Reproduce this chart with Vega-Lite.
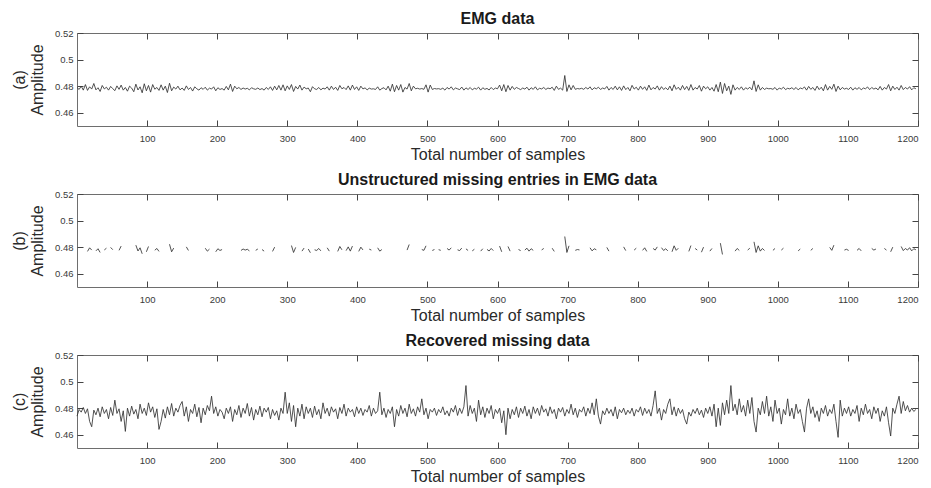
{
  "$schema": "https://vega.github.io/schema/vega-lite/v6.json",
  "padding": {"left": 11, "top": 10, "right": 0, "bottom": 1},
  "background": "white",
  "config": {
    "font": "Liberation Sans",
    "view": {"stroke": "#6e6e6e", "strokeWidth": 1},
    "axis": {"domain": false, "grid": false, "tickColor": "#444444", "tickSize": 6, "tickWidth": 1, "offset": -6, "labelFont": "Liberation Sans", "labelFontSize": 9.5, "labelColor": "#3a3a3a", "titleFont": "Liberation Sans", "titleFontSize": 16, "titleFontWeight": "normal", "titleColor": "#2a2a2a"},
    "title": {"font": "Liberation Sans", "fontSize": 16, "fontWeight": "bold", "color": "#1a1a1a", "anchor": "middle", "offset": 1},
    "line": {"color": "#333333", "strokeWidth": 0.85}
  },
  "data": {"values": [
{"n":0,"a":0.479,"c":0.474},{"n":3,"a":0.4775,"c":0.479},{"n":6,"a":0.48,"c":0.477},{"n":9,"a":0.477,"c":0.4805},{"n":12,"a":0.4812,"c":0.476},{"n":15,"a":0.4768,"b":0.4768,"c":0.4795},{"n":18,"a":0.4795,"b":0.4795,"c":0.47},{"n":21,"a":0.4778,"b":0.4778,"c":0.466},{"n":24,"a":0.482,"c":0.4785},{"n":27,"a":0.4772,"b":0.4772,"c":0.475},
{"n":30,"a":0.4788,"b":0.4788,"c":0.48},{"n":33,"a":0.476,"b":0.476,"c":0.4735},{"n":36,"a":0.4805,"c":0.481},{"n":39,"a":0.4779,"b":0.4779,"c":0.476},{"n":42,"a":0.4792,"b":0.4792,"c":0.479},{"n":45,"a":0.477,"c":0.472},{"n":48,"a":0.4798,"b":0.4798,"c":0.4805},{"n":51,"a":0.4781,"b":0.4781,"c":0.4745},{"n":54,"a":0.4766,"c":0.486},{"n":57,"a":0.4802,"c":0.476},
{"n":60,"a":0.4776,"b":0.4776,"c":0.4795},{"n":63,"a":0.4808,"b":0.4808,"c":0.47},{"n":66,"a":0.477,"c":0.478},{"n":69,"a":0.479,"c":0.4625},{"n":72,"a":0.4762,"c":0.48},{"n":75,"a":0.48,"c":0.474},{"n":78,"a":0.4785,"c":0.4815},{"n":81,"a":0.4758,"c":0.4755},{"n":84,"a":0.4815,"b":0.4815,"c":0.479},{"n":87,"a":0.4771,"b":0.4771,"c":0.472},
{"n":90,"a":0.4795,"b":0.4795,"c":0.483},{"n":93,"a":0.475,"b":0.475,"c":0.476},{"n":96,"a":0.4818,"c":0.48},{"n":99,"a":0.4765,"b":0.4765,"c":0.4745},{"n":102,"a":0.4805,"b":0.4805,"c":0.484},{"n":105,"a":0.4755,"c":0.477},{"n":108,"a":0.4812,"c":0.481},{"n":111,"a":0.4777,"b":0.4777,"c":0.473},{"n":114,"a":0.479,"b":0.479,"c":0.4795},{"n":117,"a":0.4768,"b":0.4768,"c":0.464},
{"n":120,"a":0.481,"c":0.47},{"n":123,"a":0.477,"c":0.479},{"n":126,"a":0.48,"c":0.4725},{"n":129,"a":0.4752,"c":0.481},{"n":132,"a":0.4822,"b":0.4822,"c":0.475},{"n":135,"a":0.4765,"b":0.4765,"c":0.4835},{"n":138,"a":0.4793,"b":0.4793,"c":0.474},{"n":141,"a":0.4778,"c":0.48},{"n":144,"a":0.48,"c":0.477},{"n":147,"a":0.4772,"c":0.482},
{"n":150,"a":0.4786,"c":0.485},{"n":153,"a":0.4768,"c":0.474},{"n":156,"a":0.4802,"b":0.4802,"c":0.481},{"n":159,"a":0.4775,"b":0.4775,"c":0.47},{"n":162,"a":0.479,"c":0.479},{"n":165,"a":0.4763,"c":0.476},{"n":168,"a":0.4795,"c":0.483},{"n":171,"a":0.478,"c":0.4735},{"n":174,"a":0.477,"c":0.4805},{"n":177,"a":0.4788,"c":0.469},
{"n":180,"a":0.4776,"c":0.48},{"n":183,"a":0.4792,"b":0.4792,"c":0.475},{"n":186,"a":0.477,"b":0.477,"c":0.482},{"n":189,"a":0.4785,"b":0.4785,"c":0.478},{"n":192,"a":0.4778,"c":0.489},{"n":195,"a":0.4795,"c":0.476},{"n":198,"a":0.4765,"b":0.4765,"c":0.481},{"n":201,"a":0.4788,"b":0.4788,"c":0.474},{"n":204,"a":0.4775,"b":0.4775,"c":0.479},{"n":207,"a":0.4782,"b":0.4782,"c":0.477},
{"n":210,"a":0.477,"c":0.472},{"n":213,"a":0.4798,"c":0.48},{"n":216,"a":0.4772,"c":0.476},{"n":219,"a":0.4815,"c":0.481},{"n":222,"a":0.476,"c":0.47},{"n":225,"a":0.48,"c":0.479},{"n":228,"a":0.478,"c":0.475},{"n":231,"a":0.479,"c":0.482},{"n":234,"a":0.4775,"b":0.4775,"c":0.473},{"n":237,"a":0.4786,"b":0.4786,"c":0.48},
{"n":240,"a":0.4778,"b":0.4778,"c":0.476},{"n":243,"a":0.4784,"b":0.4784,"c":0.4835},{"n":246,"a":0.4772,"b":0.4772,"c":0.474},{"n":249,"a":0.4788,"c":0.4805},{"n":252,"a":0.478,"c":0.471},{"n":255,"a":0.4776,"b":0.4776,"c":0.479},{"n":258,"a":0.4786,"b":0.4786,"c":0.475},{"n":261,"a":0.4774,"c":0.4815},{"n":264,"a":0.4782,"b":0.4782,"c":0.4735},{"n":267,"a":0.477,"b":0.477,"c":0.48},
{"n":270,"a":0.479,"c":0.477},{"n":273,"a":0.4775,"c":0.4805},{"n":276,"a":0.4795,"c":0.472},{"n":279,"a":0.4768,"b":0.4768,"c":0.479},{"n":282,"a":0.48,"b":0.48,"c":0.4745},{"n":285,"a":0.4772,"c":0.478},{"n":288,"a":0.4805,"c":0.471},{"n":291,"a":0.477,"c":0.48},{"n":294,"a":0.481,"c":0.476},{"n":297,"a":0.4765,"c":0.492},
{"n":300,"a":0.4802,"c":0.476},{"n":303,"a":0.4775,"c":0.484},{"n":306,"a":0.4812,"b":0.4812,"c":0.47},{"n":309,"a":0.476,"b":0.476,"c":0.482},{"n":312,"a":0.4798,"b":0.4798,"c":0.466},{"n":315,"a":0.4778,"c":0.48},{"n":318,"a":0.4808,"c":0.474},{"n":321,"a":0.477,"b":0.477,"c":0.483},{"n":324,"a":0.4793,"b":0.4793,"c":0.472},{"n":327,"a":0.478,"c":0.481},
{"n":330,"a":0.4786,"b":0.4786,"c":0.476},{"n":333,"a":0.4758,"b":0.4758,"c":0.48},{"n":336,"a":0.4796,"c":0.473},{"n":339,"a":0.478,"b":0.478,"c":0.4815},{"n":342,"a":0.4775,"b":0.4775,"c":0.475},{"n":345,"a":0.479,"b":0.479,"c":0.479},{"n":348,"a":0.4772,"b":0.4772,"c":0.472},{"n":351,"a":0.4785,"c":0.484},{"n":354,"a":0.4778,"c":0.476},{"n":357,"a":0.4795,"b":0.4795,"c":0.48},
{"n":360,"a":0.477,"b":0.477,"c":0.474},{"n":363,"a":0.48,"c":0.481},{"n":366,"a":0.4775,"c":0.477},{"n":369,"a":0.4792,"c":0.4795},{"n":372,"a":0.4768,"b":0.4768,"c":0.472},{"n":375,"a":0.4805,"b":0.4805,"c":0.4805},{"n":378,"a":0.478,"b":0.478,"c":0.476},{"n":381,"a":0.479,"c":0.483},{"n":384,"a":0.4774,"b":0.4774,"c":0.474},{"n":387,"a":0.4802,"b":0.4802,"c":0.48},
{"n":390,"a":0.477,"b":0.477,"c":0.477},{"n":393,"a":0.4808,"b":0.4808,"c":0.479},{"n":396,"a":0.4775,"c":0.4735},{"n":399,"a":0.4795,"c":0.481},{"n":402,"a":0.4768,"b":0.4768,"c":0.476},{"n":405,"a":0.48,"b":0.48,"c":0.48},{"n":408,"a":0.4779,"b":0.4779,"c":0.4745},{"n":411,"a":0.4787,"c":0.479},{"n":414,"a":0.4772,"c":0.477},{"n":417,"a":0.4785,"b":0.4785,"c":0.482},
{"n":420,"a":0.4778,"b":0.4778,"c":0.474},{"n":423,"a":0.478,"c":0.48},{"n":426,"a":0.4775,"c":0.476},{"n":429,"a":0.4795,"b":0.4795,"c":0.478},{"n":432,"a":0.477,"b":0.477,"c":0.492},{"n":435,"a":0.4782,"b":0.4782,"c":0.475},{"n":438,"a":0.4788,"c":0.48},{"n":441,"a":0.4772,"c":0.473},{"n":444,"a":0.48,"c":0.479},{"n":447,"a":0.4762,"c":0.476},
{"n":450,"a":0.4815,"c":0.481},{"n":453,"a":0.4758,"c":0.466},{"n":456,"a":0.4805,"c":0.479},{"n":459,"a":0.477,"c":0.474},{"n":462,"a":0.4812,"c":0.482},{"n":465,"a":0.4755,"c":0.476},{"n":468,"a":0.479,"c":0.48},{"n":471,"a":0.4778,"b":0.4778,"c":0.4735},{"n":474,"a":0.482,"b":0.482,"c":0.483},{"n":477,"a":0.4765,"c":0.476},
{"n":480,"a":0.48,"c":0.4795},{"n":483,"a":0.478,"c":0.474},{"n":486,"a":0.4784,"c":0.481},{"n":489,"a":0.4778,"c":0.477},{"n":492,"a":0.4782,"b":0.4782,"c":0.487},{"n":495,"a":0.4776,"b":0.4776,"c":0.475},{"n":498,"a":0.481,"b":0.481,"c":0.48},{"n":501,"a":0.4755,"c":0.472},{"n":504,"a":0.4808,"c":0.479},{"n":507,"a":0.4775,"b":0.4775,"c":0.477},
{"n":510,"a":0.4782,"b":0.4782,"c":0.48},{"n":513,"a":0.4779,"c":0.4745},{"n":516,"a":0.4781,"b":0.4781,"c":0.479},{"n":519,"a":0.4776,"b":0.4776,"c":0.4765},{"n":522,"a":0.4785,"c":0.481},{"n":525,"a":0.477,"c":0.475},{"n":528,"a":0.479,"b":0.479,"c":0.478},{"n":531,"a":0.4778,"b":0.4778,"c":0.474},{"n":534,"a":0.4795,"b":0.4795,"c":0.48},{"n":537,"a":0.4772,"c":0.477},
{"n":540,"a":0.4786,"c":0.482},{"n":543,"a":0.478,"b":0.478,"c":0.4745},{"n":546,"a":0.4774,"b":0.4774,"c":0.48},{"n":549,"a":0.4793,"b":0.4793,"c":0.476},{"n":552,"a":0.477,"c":0.481},{"n":555,"a":0.4787,"b":0.4787,"c":0.497},{"n":558,"a":0.4775,"b":0.4775,"c":0.474},{"n":561,"a":0.479,"c":0.482},{"n":564,"a":0.4772,"b":0.4772,"c":0.476},{"n":567,"a":0.4784,"b":0.4784,"c":0.48},
{"n":570,"a":0.4778,"c":0.47},{"n":573,"a":0.4792,"c":0.486},{"n":576,"a":0.477,"b":0.477,"c":0.475},{"n":579,"a":0.4788,"b":0.4788,"c":0.481},{"n":582,"a":0.4776,"c":0.473},{"n":585,"a":0.4783,"b":0.4783,"c":0.48},{"n":588,"a":0.4771,"b":0.4771,"c":0.476},{"n":591,"a":0.479,"b":0.479,"c":0.482},{"n":594,"a":0.4774,"b":0.4774,"c":0.472},{"n":597,"a":0.4786,"c":0.479},
{"n":600,"a":0.478,"c":0.476},{"n":603,"a":0.4808,"b":0.4808,"c":0.48},{"n":606,"a":0.4765,"b":0.4765,"c":0.469},{"n":609,"a":0.4812,"c":0.478},{"n":612,"a":0.4758,"c":0.46},{"n":615,"a":0.4805,"b":0.4805,"c":0.48},{"n":618,"a":0.477,"b":0.477,"c":0.472},{"n":621,"a":0.4798,"c":0.479},{"n":624,"a":0.4776,"c":0.475},{"n":627,"a":0.479,"c":0.481},
{"n":630,"a":0.4782,"b":0.4782,"c":0.473},{"n":633,"a":0.4774,"b":0.4774,"c":0.48},{"n":636,"a":0.4786,"c":0.476},{"n":639,"a":0.4778,"b":0.4778,"c":0.4815},{"n":642,"a":0.4792,"b":0.4792,"c":0.474},{"n":645,"a":0.477,"b":0.477,"c":0.479},{"n":648,"a":0.4788,"b":0.4788,"c":0.472},{"n":651,"a":0.4776,"b":0.4776,"c":0.481},{"n":654,"a":0.4795,"c":0.476},{"n":657,"a":0.4772,"c":0.48},
{"n":660,"a":0.4784,"c":0.4745},{"n":663,"a":0.4779,"b":0.4779,"c":0.482},{"n":666,"a":0.479,"b":0.479,"c":0.477},{"n":669,"a":0.4775,"c":0.4795},{"n":672,"a":0.4786,"c":0.474},{"n":675,"a":0.478,"c":0.481},{"n":678,"a":0.4792,"b":0.4792,"c":0.476},{"n":681,"a":0.4768,"b":0.4768,"c":0.479},{"n":684,"a":0.48,"c":0.472},{"n":687,"a":0.4776,"c":0.48},
{"n":690,"a":0.4785,"c":0.477},{"n":693,"a":0.477,"c":0.4805},{"n":696,"a":0.488,"b":0.488,"c":0.474},{"n":699,"a":0.476,"b":0.476,"c":0.479},{"n":702,"a":0.481,"b":0.481,"c":0.476},{"n":705,"a":0.4772,"c":0.483},{"n":708,"a":0.4805,"c":0.475},{"n":711,"a":0.4776,"b":0.4776,"c":0.48},{"n":714,"a":0.4782,"b":0.4782,"c":0.473},{"n":717,"a":0.4779,"b":0.4779,"c":0.479},
{"n":720,"a":0.4784,"c":0.477},{"n":723,"a":0.4776,"c":0.481},{"n":726,"a":0.479,"c":0.474},{"n":729,"a":0.4778,"c":0.48},{"n":732,"a":0.4795,"b":0.4795,"c":0.476},{"n":735,"a":0.4772,"b":0.4772,"c":0.484},{"n":738,"a":0.4788,"b":0.4788,"c":0.475},{"n":741,"a":0.478,"b":0.478,"c":0.487},{"n":744,"a":0.4792,"c":0.474},{"n":747,"a":0.4775,"c":0.468},
{"n":750,"a":0.4786,"c":0.478},{"n":753,"a":0.4779,"c":0.475},{"n":756,"a":0.4798,"b":0.4798,"c":0.48},{"n":759,"a":0.477,"b":0.477,"c":0.476},{"n":762,"a":0.479,"c":0.479},{"n":765,"a":0.4775,"c":0.474},{"n":768,"a":0.48,"c":0.481},{"n":771,"a":0.4772,"c":0.472},{"n":774,"a":0.4795,"c":0.479},{"n":777,"a":0.4768,"c":0.4765},
{"n":780,"a":0.4802,"b":0.4802,"c":0.48},{"n":783,"a":0.4774,"b":0.4774,"c":0.475},{"n":786,"a":0.479,"c":0.4785},{"n":789,"a":0.4765,"c":0.476},{"n":792,"a":0.4806,"c":0.48},{"n":795,"a":0.4778,"b":0.4778,"c":0.474},{"n":798,"a":0.4792,"b":0.4792,"c":0.479},{"n":801,"a":0.477,"c":0.477},{"n":804,"a":0.48,"c":0.481},{"n":807,"a":0.4776,"b":0.4776,"c":0.4745},
{"n":810,"a":0.4795,"b":0.4795,"c":0.48},{"n":813,"a":0.4768,"b":0.4768,"c":0.476},{"n":816,"a":0.4808,"c":0.479},{"n":819,"a":0.4772,"c":0.474},{"n":822,"a":0.479,"b":0.479,"c":0.482},{"n":825,"a":0.4778,"b":0.4778,"c":0.493},{"n":828,"a":0.4802,"b":0.4802,"c":0.476},{"n":831,"a":0.477,"c":0.48},{"n":834,"a":0.4796,"b":0.4796,"c":0.471},{"n":837,"a":0.4775,"b":0.4775,"c":0.479},
{"n":840,"a":0.4788,"b":0.4788,"c":0.476},{"n":843,"a":0.4772,"b":0.4772,"c":0.483},{"n":846,"a":0.48,"c":0.487},{"n":849,"a":0.4765,"b":0.4765,"c":0.475},{"n":852,"a":0.481,"b":0.481,"c":0.481},{"n":855,"a":0.4776,"b":0.4776,"c":0.474},{"n":858,"a":0.4792,"b":0.4792,"c":0.48},{"n":861,"a":0.477,"c":0.476},{"n":864,"a":0.4805,"c":0.479},{"n":867,"a":0.4774,"c":0.472},
{"n":870,"a":0.4798,"c":0.468},{"n":873,"a":0.4768,"b":0.4768,"c":0.477},{"n":876,"a":0.4812,"b":0.4812,"c":0.474},{"n":879,"a":0.477,"c":0.479},{"n":882,"a":0.479,"b":0.479,"c":0.476},{"n":885,"a":0.4778,"b":0.4778,"c":0.48},{"n":888,"a":0.4805,"c":0.475},{"n":891,"a":0.4762,"b":0.4762,"c":0.4785},{"n":894,"a":0.48,"b":0.48,"c":0.473},{"n":897,"a":0.478,"c":0.48},
{"n":900,"a":0.4795,"c":0.476},{"n":903,"a":0.477,"b":0.477,"c":0.481},{"n":906,"a":0.479,"b":0.479,"c":0.474},{"n":909,"a":0.4762,"c":0.483},{"n":912,"a":0.4812,"c":0.466},{"n":915,"a":0.4758,"c":0.48},{"n":918,"a":0.483,"b":0.483,"c":0.467},{"n":921,"a":0.4745,"b":0.4745,"c":0.484},{"n":924,"a":0.482,"c":0.475},{"n":927,"a":0.4765,"c":0.486},
{"n":930,"a":0.48,"c":0.476},{"n":933,"a":0.4738,"c":0.497},{"n":936,"a":0.481,"c":0.478},{"n":939,"a":0.477,"b":0.477,"c":0.483},{"n":942,"a":0.479,"b":0.479,"c":0.475},{"n":945,"a":0.4775,"b":0.4775,"c":0.487},{"n":948,"a":0.4795,"c":0.477},{"n":951,"a":0.477,"c":0.482},{"n":954,"a":0.4788,"c":0.474},{"n":957,"a":0.4778,"b":0.4778,"c":0.486},
{"n":960,"a":0.4792,"b":0.4792,"c":0.476},{"n":963,"a":0.4772,"c":0.488},{"n":966,"a":0.484,"b":0.484,"c":0.47},{"n":969,"a":0.476,"b":0.476,"c":0.462},{"n":972,"a":0.481,"b":0.481,"c":0.48},{"n":975,"a":0.477,"b":0.477,"c":0.475},{"n":978,"a":0.479,"b":0.479,"c":0.485},{"n":981,"a":0.4775,"b":0.4775,"c":0.476},{"n":984,"a":0.4785,"c":0.489},{"n":987,"a":0.478,"c":0.474},
{"n":990,"a":0.4782,"c":0.481},{"n":993,"a":0.4776,"b":0.4776,"c":0.47},{"n":996,"a":0.479,"b":0.479,"c":0.486},{"n":999,"a":0.477,"c":0.476},{"n":1002,"a":0.4786,"c":0.48},{"n":1005,"a":0.4778,"b":0.4778,"c":0.468},{"n":1008,"a":0.4792,"b":0.4792,"c":0.479},{"n":1011,"a":0.4774,"c":0.475},{"n":1014,"a":0.4784,"c":0.487},{"n":1017,"a":0.4779,"c":0.474},
{"n":1020,"a":0.4788,"c":0.48},{"n":1023,"a":0.4775,"c":0.472},{"n":1026,"a":0.479,"c":0.483},{"n":1029,"a":0.4772,"b":0.4772,"c":0.476},{"n":1032,"a":0.4786,"b":0.4786,"c":0.479},{"n":1035,"a":0.478,"c":0.47},{"n":1038,"a":0.4794,"c":0.462},{"n":1041,"a":0.477,"c":0.48},{"n":1044,"a":0.4798,"c":0.487},{"n":1047,"a":0.4776,"b":0.4776,"c":0.476},
{"n":1050,"a":0.479,"b":0.479,"c":0.481},{"n":1053,"a":0.4768,"c":0.473},{"n":1056,"a":0.48,"c":0.478},{"n":1059,"a":0.4774,"c":0.47},{"n":1062,"a":0.4792,"c":0.48},{"n":1065,"a":0.4765,"c":0.476},{"n":1068,"a":0.4812,"c":0.482},{"n":1071,"a":0.477,"c":0.474},{"n":1074,"a":0.4798,"b":0.4798,"c":0.479},{"n":1077,"a":0.4776,"b":0.4776,"c":0.476},
{"n":1080,"a":0.4815,"b":0.4815,"c":0.483},{"n":1083,"a":0.476,"c":0.47},{"n":1086,"a":0.48,"c":0.458},{"n":1089,"a":0.4772,"c":0.486},{"n":1092,"a":0.479,"c":0.474},{"n":1095,"a":0.4778,"b":0.4778,"c":0.48},{"n":1098,"a":0.4784,"b":0.4784,"c":0.476},{"n":1101,"a":0.4775,"b":0.4775,"c":0.481},{"n":1104,"a":0.4792,"c":0.474},{"n":1107,"a":0.477,"c":0.479},
{"n":1110,"a":0.4788,"c":0.476},{"n":1113,"a":0.4776,"b":0.4776,"c":0.482},{"n":1116,"a":0.479,"b":0.479,"c":0.47},{"n":1119,"a":0.4772,"b":0.4772,"c":0.48},{"n":1122,"a":0.4786,"c":0.475},{"n":1125,"a":0.478,"c":0.483},{"n":1128,"a":0.4794,"c":0.476},{"n":1131,"a":0.4774,"c":0.479},{"n":1134,"a":0.479,"b":0.479,"c":0.472},{"n":1137,"a":0.4778,"b":0.4778,"c":0.481},
{"n":1140,"a":0.4786,"b":0.4786,"c":0.476},{"n":1143,"a":0.4772,"c":0.48},{"n":1146,"a":0.4798,"c":0.47},{"n":1149,"a":0.477,"c":0.478},{"n":1152,"a":0.479,"b":0.479,"c":0.474},{"n":1155,"a":0.4778,"b":0.4778,"c":0.481},{"n":1158,"a":0.4812,"c":0.469},{"n":1161,"a":0.4765,"b":0.4765,"c":0.459},{"n":1164,"a":0.48,"b":0.48,"c":0.48},{"n":1167,"a":0.4775,"c":0.476},
{"n":1170,"a":0.4792,"c":0.483},{"n":1173,"a":0.477,"c":0.489},{"n":1176,"a":0.4805,"b":0.4805,"c":0.476},{"n":1179,"a":0.4774,"b":0.4774,"c":0.485},{"n":1182,"a":0.479,"b":0.479,"c":0.478},{"n":1185,"a":0.4778,"b":0.4778,"c":0.482},{"n":1188,"a":0.4796,"b":0.4796,"c":0.477},{"n":1191,"a":0.4772,"b":0.4772,"c":0.48},{"n":1194,"a":0.4788,"b":0.4788,"c":0.4775},{"n":1197,"a":0.478,"b":0.478,"c":0.479}
  ]},
  "spacing": 8,
  "vconcat": [
    {
      "title": "EMG data",
      "width": 841, "height": 93,
      "layer": [
        {"mark": {"type": "line"},
         "encoding": {
           "x": {"field": "n", "type": "quantitative", "scale": {"domain": [0, 1200], "nice": false, "zero": false},
                 "axis": {"orient": "bottom", "values": [100,200,300,400,500,600,700,800,900,1000,1100,1200], "format": "d", "labelPadding": 7, "title": "Total number of samples", "titlePadding": 4}},
           "y": {"field": "a", "type": "quantitative", "scale": {"domain": [0.45, 0.52], "nice": false, "zero": false},
                 "axis": {"orient": "left", "values": [0.46, 0.48, 0.5, 0.52], "format": ".2~f", "labelPadding": 4, "title": ["(a)", "Amplitude"], "titlePadding": 9}}
         }},
        {"mark": {"type": "line", "opacity": 0},
         "encoding": {
           "x": {"field": "n", "type": "quantitative", "axis": {"orient": "top", "values": [100,200,300,400,500,600,700,800,900,1000,1100,1200], "labels": false, "title": null}},
           "y": {"field": "a", "type": "quantitative", "axis": {"orient": "right", "values": [0.46, 0.48, 0.5, 0.52], "labels": false, "title": null}}
         }}
      ],
      "resolve": {"axis": {"x": "independent", "y": "independent"}}
    },
    {
      "title": "Unstructured missing entries in EMG data",
      "width": 841, "height": 93,
      "layer": [
        {"mark": {"type": "line", "invalid": "break-paths-show-domains"},
         "encoding": {
           "x": {"field": "n", "type": "quantitative", "scale": {"domain": [0, 1200], "nice": false, "zero": false},
                 "axis": {"orient": "bottom", "values": [100,200,300,400,500,600,700,800,900,1000,1100,1200], "format": "d", "labelPadding": 7, "title": "Total number of samples", "titlePadding": 4}},
           "y": {"field": "b", "type": "quantitative", "scale": {"domain": [0.45, 0.52], "nice": false, "zero": false},
                 "axis": {"orient": "left", "values": [0.46, 0.48, 0.5, 0.52], "format": ".2~f", "labelPadding": 4, "title": ["(b)", "Amplitude"], "titlePadding": 9}}
         }},
        {"mark": {"type": "line", "opacity": 0},
         "encoding": {
           "x": {"field": "n", "type": "quantitative", "axis": {"orient": "top", "values": [100,200,300,400,500,600,700,800,900,1000,1100,1200], "labels": false, "title": null}},
           "y": {"field": "a", "type": "quantitative", "axis": {"orient": "right", "values": [0.46, 0.48, 0.5, 0.52], "labels": false, "title": null}}
         }}
      ],
      "resolve": {"axis": {"x": "independent", "y": "independent"}}
    },
    {
      "title": "Recovered missing data",
      "width": 841, "height": 93,
      "layer": [
        {"mark": {"type": "line"},
         "encoding": {
           "x": {"field": "n", "type": "quantitative", "scale": {"domain": [0, 1200], "nice": false, "zero": false},
                 "axis": {"orient": "bottom", "values": [100,200,300,400,500,600,700,800,900,1000,1100,1200], "format": "d", "labelPadding": 7, "title": "Total number of samples", "titlePadding": 4}},
           "y": {"field": "c", "type": "quantitative", "scale": {"domain": [0.45, 0.52], "nice": false, "zero": false},
                 "axis": {"orient": "left", "values": [0.46, 0.48, 0.5, 0.52], "format": ".2~f", "labelPadding": 4, "title": ["(c)", "Amplitude"], "titlePadding": 9}}
         }},
        {"mark": {"type": "line", "opacity": 0},
         "encoding": {
           "x": {"field": "n", "type": "quantitative", "axis": {"orient": "top", "values": [100,200,300,400,500,600,700,800,900,1000,1100,1200], "labels": false, "title": null}},
           "y": {"field": "c", "type": "quantitative", "axis": {"orient": "right", "values": [0.46, 0.48, 0.5, 0.52], "labels": false, "title": null}}
         }}
      ],
      "resolve": {"axis": {"x": "independent", "y": "independent"}}
    }
  ]
}
